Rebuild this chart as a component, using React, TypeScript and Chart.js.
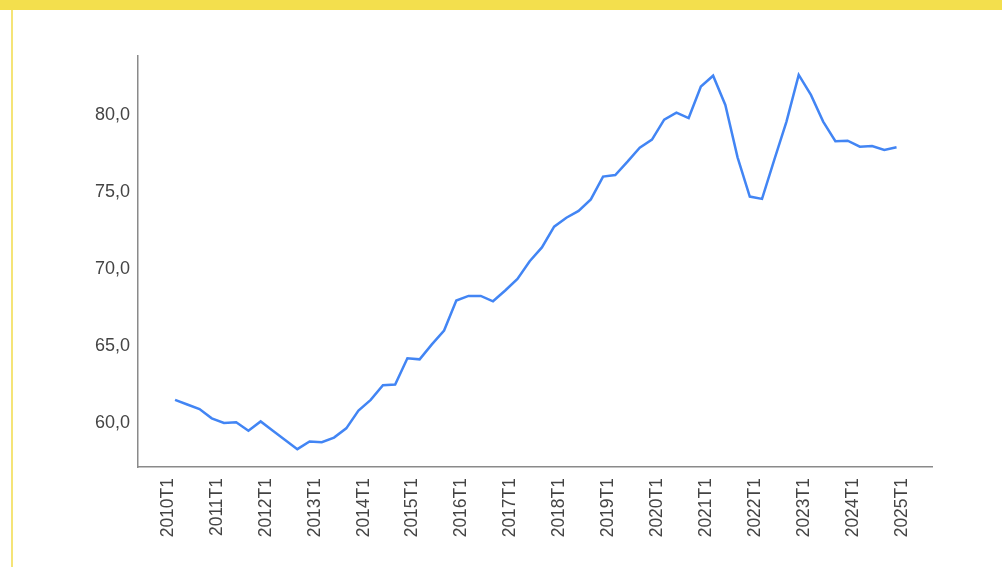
import React, { useEffect, useRef } from "react";
import { Chart, registerables } from "chart.js";

Chart.register(...registerables);

const quarters: string[] = [];
for (let y = 2010; y <= 2025; y++) {
  for (let q = 1; q <= 4; q++) quarters.push(`${y}T${q}`);
}

const values: number[] = [
  61.5, 61.2, 60.9, 60.3, 60.0, 60.05, 59.5, 60.1,
  59.5, 58.9, 58.3, 58.8, 58.75, 59.05, 59.65, 60.8,
  61.5, 62.45, 62.5, 64.2, 64.13, 65.1, 66.0, 67.95,
  68.25, 68.25, 67.9, 68.6, 69.35, 70.5, 71.4, 72.75,
  73.33, 73.77, 74.52, 76.0, 76.1, 76.97, 77.88, 78.4,
  79.7, 80.15, 79.8, 81.85, 82.55, 80.65, 77.25, 74.7,
  74.55, 77.08, 79.57, 82.6, 81.3, 79.57, 78.3, 78.33,
  77.94, 77.98, 77.73, 77.9,
];

const xTickIdx: number[] = [0, 4, 8, 12, 16, 20, 24, 28, 32, 36, 40, 44, 48, 52, 56, 60];
const yTicks: number[] = [60, 65, 70, 75, 80];

const FONT = "'Liberation Sans', Arial, sans-serif";

export default function App() {
  const ref = useRef<HTMLCanvasElement | null>(null);

  useEffect(() => {
    document.body.style.margin = "0";
    if (!ref.current) return;
    const chart = new Chart(ref.current, {
      type: "line",
      data: {
        datasets: [
          {
            data: values.map((v, i) => ({ x: i, y: v })),
            borderColor: "#4285F4",
            borderWidth: 2.5,
            pointRadius: 0,
            tension: 0,
            fill: false,
          },
        ],
      },
      options: {
        animation: false,
        responsive: false,
        layout: { padding: { left: 0, right: 70, top: 56, bottom: 0 } },
        plugins: { legend: { display: false }, tooltip: { enabled: false } },
        scales: {
          x: {
            type: "linear",
            min: -3.03,
            max: 61.9,
            afterFit: (s: any) => {
              s.height = 100;
            },
            afterBuildTicks: (s: any) => {
              s.ticks = xTickIdx.map((v) => ({ value: v }));
            },
            grid: { display: false, drawTicks: false },
            border: { display: true, color: "#8a8a8a", width: 1.5 },
            ticks: {
              autoSkip: false,
              maxRotation: 90,
              minRotation: 90,
              padding: 11,
              labelOffset: -7,
              color: "#444",
              font: { family: FONT, size: 17.5 },
              callback: (v: any) => quarters[Number(v)] ?? "",
            },
          },
          y: {
            type: "linear",
            min: 57.14,
            max: 83.83,
            afterFit: (s: any) => {
              s.width = 138;
            },
            afterBuildTicks: (s: any) => {
              s.ticks = yTicks.map((v) => ({ value: v }));
            },
            grid: { display: false, drawTicks: false },
            border: { display: true, color: "#8a8a8a", width: 1.5 },
            ticks: {
              padding: 8,
              color: "#444",
              font: { family: FONT, size: 18 },
              callback: (v: any) => Number(v).toFixed(1).replace(".", ","),
            },
          },
        },
      },
    });
    return () => chart.destroy();
  }, []);

  return (
    <div
      style={{
        position: "fixed",
        left: 0,
        top: 0,
        width: 1002,
        height: 567,
        background: "#ffffff",
        overflow: "hidden",
      }}
    >
      <div
        style={{
          position: "absolute",
          left: 0,
          top: 0,
          width: 1002,
          height: 10,
          background: "#F3DF4D",
        }}
      />
      <div
        style={{
          position: "absolute",
          left: 11,
          top: 10,
          width: 2,
          height: 557,
          background: "#F5E477",
        }}
      />
      <canvas
        ref={ref}
        width={1002}
        height={567}
        style={{ position: "absolute", left: 0, top: 0 }}
      />
    </div>
  );
}
